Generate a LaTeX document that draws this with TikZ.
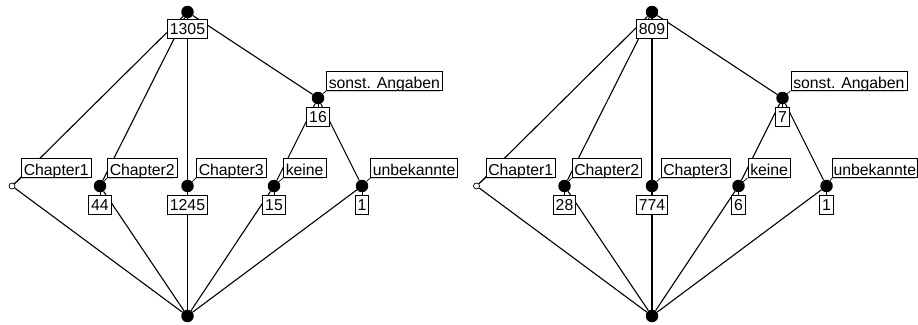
\documentclass[tikz,border=0pt]{standalone}
\usepackage{fontspec}
\setmainfont{Liberation Sans}
\tikzset{
  conn/.style={line width=1.1pt, black},
  tickline/.style={line width=0.7pt, black},
  fullnode/.style={circle, fill=black, inner sep=0pt, minimum size=12.5pt},
  opennode/.style={circle, draw=black, fill=white, inner sep=0pt, minimum size=6pt, line width=0.7pt},
  labbase/.style={fill=white, draw=black, line width=0.7pt, font=\fontsize{15.8pt}{18pt}\selectfont,
    inner xsep=2.4pt},
  attrlab/.style={labbase, anchor=south west, inner ysep=1pt, text height=16pt, text depth=1pt,
    append after command={(\tikzlastnode.south west) edge[draw=gray!35, line width=0.9pt, shorten >=3pt] (\tikzlastnode.south east)}},
  objlab/.style={labbase, anchor=north, inner ysep=3.8pt, text height=11.6pt, text depth=0pt},
}
\newcommand\drawlattice[7]{%
  \node[fullnode] (top) at (187.5,12) {};
  \node[fullnode] (so) at (318,98) {};
  \node[opennode] (c1) at (12,186) {};
  \node[fullnode] (c2) at (100,186) {};
  \node[fullnode] (c3) at (187.5,186) {};
  \node[fullnode] (ke) at (274,186) {};
  \node[fullnode] (un) at (362,186) {};
  \node[fullnode] (bot) at (187.5,316) {};
  \draw[conn] (top) -- (c1);
  \draw[conn] (top) -- (c2);
  \draw[conn] (top) -- (c3);
  \draw[conn] (top) -- (so);
  \draw[conn] (so) -- (ke);
  \draw[conn] (so) -- (un);
  \draw[conn] (bot) -- (c1);
  \draw[conn] (bot) -- (c2);
  \draw[conn] (bot) -- (c3);
  \draw[conn] (bot) -- (ke);
  \draw[conn] (bot) -- (un);
  \node[objlab] (topo) at (187.5,19) {#1};
  \node[attrlab] (soa) at (326,91) {sonst. Angaben};
  \node[objlab] (soo) at (318,107) {#2};
  \node[attrlab] (c1a) at (21,178) {Chapter1};
  \node[attrlab] (c2a) at (107,178) {Chapter2};
  \node[objlab] (c2o) at (100,195) {#3};
  \node[attrlab] (c3a) at (196,178) {Chapter3};
  \node[objlab] (c3o) at (187.5,195) {#4};
  \node[attrlab] (kea) at (283,178) {keine};
  \node[objlab] (keo) at (274,195) {#5};
  \node[attrlab, #7] (una) at (370,178) {unbekannte};
  \node[objlab] (uno) at (362,195) {#6};
  \draw[tickline] (top) -- (topo.north);
  \draw[tickline] (so) -- (soa.south west);
  \draw[tickline] (so) -- (soo.north);
  \draw[tickline] (c1) -- (c1a.south west);
  \draw[tickline] (c2) -- (c2a.south west);
  \draw[tickline] (c2) -- (c2o.north);
  \draw[tickline] (c3) -- (c3a.south west);
  \draw[tickline] (c3) -- (c3o.north);
  \draw[tickline] (ke) -- (kea.south west);
  \draw[tickline] (ke) -- (keo.north);
  \draw[tickline] (un) -- (una.south west);
  \draw[tickline] (un) -- (uno.north);
}
\begin{document}
\begin{tikzpicture}[x=1pt, y=-1pt]
  \useasboundingbox (0,0) rectangle (918,324);
  \clip (0,0) rectangle (918,324);
  \begin{scope}[name prefix=L-]
    \drawlattice{1305}{16}{44}{1245}{15}{1}{}
  \end{scope}
  \begin{scope}[name prefix=R-, xshift=464.5pt]
    \drawlattice{809}{7}{28}{774}{6}{1}{xshift=-2.5pt, inner xsep=1.2pt}
  \end{scope}
\end{tikzpicture}
\end{document}
